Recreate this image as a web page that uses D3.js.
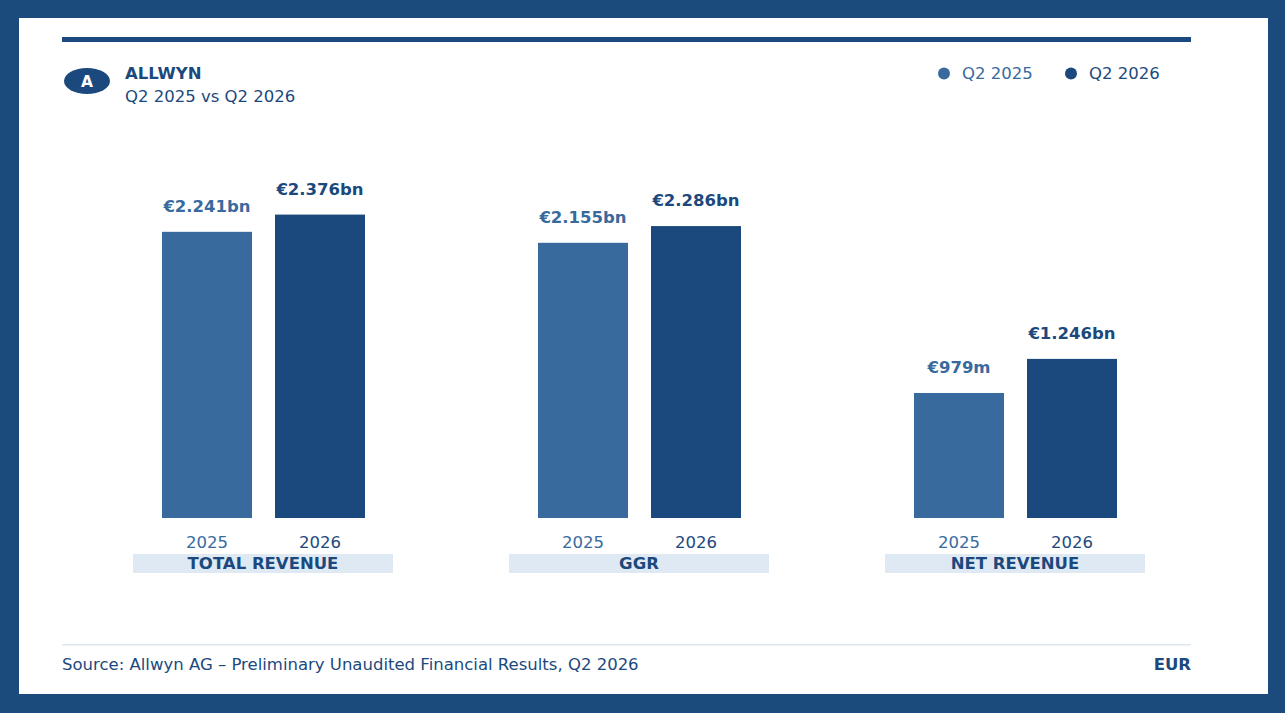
<!DOCTYPE html>
<html>
<head>
<meta charset="utf-8">
<script src="https://cdn.jsdelivr.net/npm/d3@7"></script>
<style>
  html, body { margin: 0; padding: 0; background: #1b4a7d; }
  svg { display: block; font-family: "DejaVu Sans", sans-serif; }
</style>
</head>
<body>
<div id="chart"></div>
<script>
// data
var categories = ["TOTAL REVENUE", "GGR", "NET REVENUE"];
var years = ["2025", "2026"];
var seriesNames = ["Q2 2025", "Q2 2026"];
var values2025 = [2.241, 2.155, 0.979];
var values2026 = [2.376, 2.286, 1.246];
var labels2025 = ["€2.241bn", "€2.155bn", "€979m"];
var labels2026 = ["€2.376bn", "€2.286bn", "€1.246bn"];

var W = 1285, H = 713;
var light = "#386a9e", dark = "#1b497d";
var colors = [light, dark];
var fs = 16.5;

var svg = d3.select("#chart").append("svg")
  .attr("width", W)
  .attr("height", H);

// outer frame
svg.append("rect").attr("width", W).attr("height", H).attr("fill", "#1b4a7d");
svg.append("rect")
  .attr("x", 19).attr("y", 18)
  .attr("width", 1249).attr("height", 676)
  .attr("fill", "#fff");

// top rule
svg.append("rect")
  .attr("x", 62).attr("y", 37)
  .attr("width", 1129).attr("height", 5)
  .attr("fill", dark);

// badge + title
svg.append("ellipse")
  .attr("cx", 87).attr("cy", 81)
  .attr("rx", 23).attr("ry", 13)
  .attr("fill", dark);
svg.append("text")
  .attr("x", 87).attr("y", 86.5)
  .attr("text-anchor", "middle")
  .attr("fill", "#fff")
  .attr("font-size", 15.5).attr("font-weight", "bold")
  .text("A");
svg.append("text")
  .attr("x", 125).attr("y", 78.5)
  .attr("fill", dark)
  .attr("font-size", fs).attr("font-weight", "bold")
  .text("ALLWYN");
svg.append("text")
  .attr("x", 125).attr("y", 102)
  .attr("fill", dark)
  .attr("font-size", fs)
  .text("Q2 2025 vs Q2 2026");

// legend
var legend = svg.selectAll(".legend")
  .data(seriesNames)
  .enter().append("g")
  .attr("class", "legend")
  .attr("transform", function(d, i) { return "translate(" + (944 + i * 127) + ",73.5)"; });
legend.append("circle")
  .attr("r", 6)
  .attr("fill", function(d, i) { return colors[i]; });
legend.append("text")
  .attr("x", 18).attr("y", 5)
  .attr("fill", function(d, i) { return colors[i]; })
  .attr("font-size", fs)
  .text(function(d) { return d; });

// scales
var x0 = d3.scaleBand()
  .domain(categories)
  .range([75, 1203])
  .paddingInner(0)
  .paddingOuter(0);

var x1 = d3.scaleBand()
  .domain(years)
  .range([87, 290])
  .paddingInner(23 / 113)
  .paddingOuter(0);

var y = d3.scaleLinear()
  .domain([0, 3])
  .range([518, 518 - 3 * 127.7]);

var rows = categories.map(function(c, i) {
  return { cat: c, vals: [values2025[i], values2026[i]], labels: [labels2025[i], labels2026[i]] };
});

var group = svg.selectAll(".group")
  .data(rows)
  .enter().append("g")
  .attr("class", "group")
  .attr("transform", function(d) { return "translate(" + x0(d.cat) + ",0)"; });

var bars = group.selectAll(".bar")
  .data(function(d) {
    return years.map(function(yr, j) { return { year: yr, v: d.vals[j], label: d.labels[j], j: j }; });
  })
  .enter();

bars.append("rect")
  .attr("class", "bar")
  .attr("x", function(d) { return x1(d.year); })
  .attr("y", function(d) { return y(d.v); })
  .attr("width", x1.bandwidth())
  .attr("height", function(d) { return y(0) - y(d.v); })
  .attr("fill", function(d) { return colors[d.j]; });

// value labels
bars.append("text")
  .attr("x", function(d) { return x1(d.year) + x1.bandwidth() / 2; })
  .attr("y", function(d) { return y(d.v) - 20; })
  .attr("text-anchor", "middle")
  .attr("fill", function(d) { return colors[d.j]; })
  .attr("font-size", fs).attr("font-weight", "bold")
  .text(function(d) { return d.label; });

// year labels
bars.append("text")
  .attr("x", function(d) { return x1(d.year) + x1.bandwidth() / 2; })
  .attr("y", 548)
  .attr("text-anchor", "middle")
  .attr("fill", function(d) { return colors[d.j]; })
  .attr("font-size", fs)
  .text(function(d) { return d.year; });

// category bands
group.append("rect")
  .attr("x", x0.bandwidth() / 2 - 130)
  .attr("y", 554)
  .attr("width", 260).attr("height", 19)
  .attr("fill", "#dfe9f4");
group.append("text")
  .attr("x", x0.bandwidth() / 2)
  .attr("y", 569)
  .attr("text-anchor", "middle")
  .attr("fill", dark)
  .attr("font-size", fs).attr("font-weight", "bold")
  .text(function(d) { return d.cat; });

// footer
svg.append("rect")
  .attr("x", 62).attr("y", 644)
  .attr("width", 1129).attr("height", 1.5)
  .attr("fill", "#dde7f0");
svg.append("text")
  .attr("x", 62).attr("y", 670)
  .attr("fill", dark)
  .attr("font-size", fs)
  .text("Source: Allwyn AG – Preliminary Unaudited Financial Results, Q2 2026");
svg.append("text")
  .attr("x", 1191).attr("y", 670)
  .attr("text-anchor", "end")
  .attr("fill", dark)
  .attr("font-size", fs).attr("font-weight", "bold")
  .text("EUR");
</script>
</body>
</html>
